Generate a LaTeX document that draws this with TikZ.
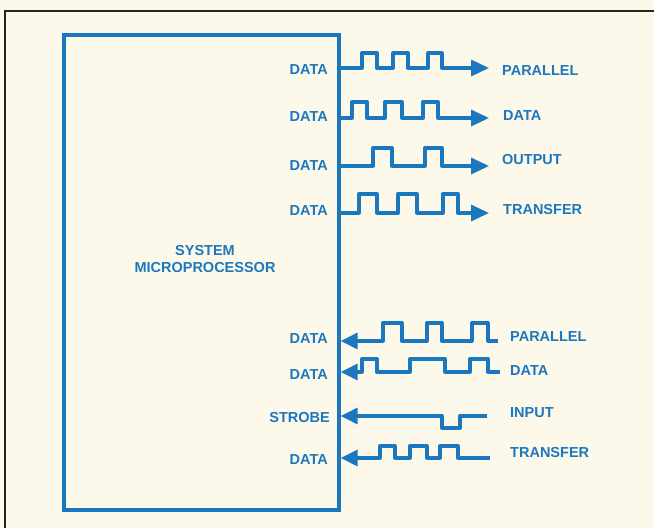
\documentclass[tikz,border=0pt]{standalone}
\usepackage{fontspec}
\setmainfont{Liberation Sans}
\usetikzlibrary{arrows.meta}
\definecolor{dblue}{RGB}{28,120,190}
\definecolor{paper}{RGB}{252,248,234}
\definecolor{framec}{RGB}{40,35,30}
\begin{document}
\begin{tikzpicture}[x=1pt,y=-1pt,
  sig/.style={draw=dblue,line width=3.3pt,line join=round},
  outsig/.style={sig,-{Triangle[length=18pt,width=16pt]}},
  insig/.style={sig,-{Triangle[length=17pt,width=16pt]}},
  lbl/.style={text=dblue,font=\fontsize{14.5}{17}\selectfont\bfseries,inner sep=0pt}]
\useasboundingbox (0,0) rectangle (654,528);
\fill[paper] (0,0) rectangle (654,528);
% outer frame
\draw[framec,line width=2.4pt] (654,11) -- (5,11) -- (5,528);
% processor box
\node[draw=dblue,line width=3.3pt,minimum width=275pt,minimum height=475pt,inner sep=0pt] (cpu) at (201.5,272.5) {};
\node[lbl,align=center] (title) at (205,259) {SYSTEM\\MICROPROCESSOR};
% left labels
\node[lbl,anchor=east] (l1) at (328,70) {DATA};
\node[lbl,anchor=east] (l2) at (328,117) {DATA};
\node[lbl,anchor=east] (l3) at (328,166) {DATA};
\node[lbl,anchor=east] (l4) at (328,211) {DATA};
\node[lbl,anchor=east] (l5) at (328,339) {DATA};
\node[lbl,anchor=east] (l6) at (328,375) {DATA};
\node[lbl,anchor=east] (l7) at (330,418) {STROBE};
\node[lbl,anchor=east] (l8) at (328,460) {DATA};
% right labels
\node[lbl,anchor=west] (r1) at (502,71) {PARALLEL};
\node[lbl,anchor=west] (r2) at (503,116) {DATA};
\node[lbl,anchor=west] (r3) at (502,160) {OUTPUT};
\node[lbl,anchor=west] (r4) at (503,210) {TRANSFER};
\node[lbl,anchor=west] (r5) at (510,337) {PARALLEL};
\node[lbl,anchor=west] (r6) at (510,371) {DATA};
\node[lbl,anchor=west] (r7) at (510,413) {INPUT};
\node[lbl,anchor=west] (r8) at (510,453) {TRANSFER};
% line end coordinates
\coordinate (s1) at (cpu.east |- 0,68);
\coordinate (s2) at (cpu.east |- 0,118);
\coordinate (s3) at (cpu.east |- 0,166);
\coordinate (s4) at (cpu.east |- 0,213);
\coordinate (t5) at (cpu.east |- 0,341);
\coordinate (t6) at (cpu.east |- 0,372);
\coordinate (t7) at (cpu.east |- 0,416);
\coordinate (t8) at (cpu.east |- 0,458);
\coordinate (e1) at (489,68);
\coordinate (e2) at (489,118);
\coordinate (e3) at (489,166);
\coordinate (e4) at (489,213);
\coordinate (f5) at (498,341);
\coordinate (f6) at (500,372);
\coordinate (f7) at (487,416);
\coordinate (f8) at (490,458);
% output waveforms
\draw[outsig] (s1) -- (362,68) -- (362,53) -- (377,53) -- (377,68) -- (393,68) -- (393,53) -- (408,53) -- (408,68) -- (428,68) -- (428,53) -- (442,53) -- (442,68) -- (e1);
\draw[outsig] (s2) -- (352,118) -- (352,102) -- (367,102) -- (367,118) -- (385,118) -- (385,102) -- (402,102) -- (402,118) -- (423,118) -- (423,102) -- (438,102) -- (438,118) -- (e2);
\draw[outsig] (s3) -- (373,166) -- (373,148) -- (392,148) -- (392,166) -- (425,166) -- (425,148) -- (442,148) -- (442,166) -- (e3);
\draw[outsig] (s4) -- (359,213) -- (359,194) -- (377,194) -- (377,213) -- (398,213) -- (398,194) -- (417,194) -- (417,213) -- (443,213) -- (443,194) -- (458,194) -- (458,213) -- (e4);
% input waveforms
\draw[insig] (f5) -- (488,341) -- (488,323) -- (472,323) -- (472,341) -- (442,341) -- (442,323) -- (427,323) -- (427,341) -- (402,341) -- (402,323) -- (383,323) -- (383,341) -- (t5);
\draw[insig] (f6) -- (488,372) -- (488,359) -- (470,359) -- (470,372) -- (445,372) -- (445,359) -- (410,359) -- (410,372) -- (377,372) -- (377,359) -- (362,359) -- (362,372) -- (t6);
\draw[insig] (f7) -- (460,416) -- (460,428) -- (442,428) -- (442,416) -- (t7);
\draw[insig] (f8) -- (458,458) -- (458,446) -- (440,446) -- (440,458) -- (427,458) -- (427,446) -- (410,446) -- (410,458) -- (395,458) -- (395,446) -- (380,446) -- (380,458) -- (t8);
\end{tikzpicture}
\end{document}
